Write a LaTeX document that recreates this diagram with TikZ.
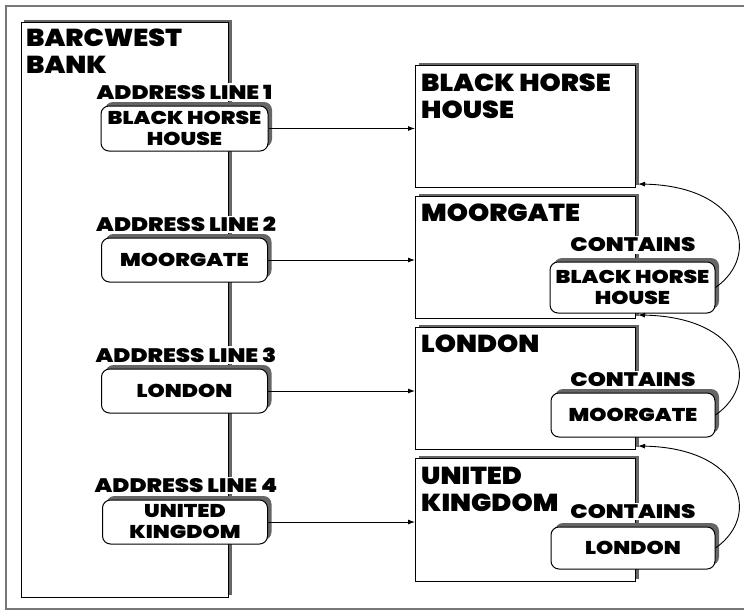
\documentclass[tikz,border=0pt]{standalone}
\usepackage{fontspec}
\newfontfamily\heavy{Poppins Black}[FakeStretch=1.1]
\newfontfamily\heavywide{Poppins Black}[FakeStretch=1.18]
\usetikzlibrary{shadows,arrows.meta}
\definecolor{shadowgray}{HTML}{666666}
\definecolor{framegray}{HTML}{777777}
\begin{document}
\begin{tikzpicture}[x=1pt,y=-1pt,
  bigtext/.style={font=\heavy\fontsize{24.5}{27}\selectfont, align=left, inner sep=0pt, anchor=north west},
  lbl/.style={font=\heavywide\fontsize{19.5}{21}\selectfont, fill=white, inner sep=1.5pt},
  panel/.style={draw=black, line width=1pt, fill=white, anchor=north west,
    drop shadow={shadow xshift=3pt, shadow yshift=3pt, fill=shadowgray, opacity=1}},
  itembox/.style={draw=black, line width=1pt, fill=white, rounded corners=8pt,
    align=center, inner sep=0pt, font=\heavywide\fontsize{18.5}{21}\selectfont,
    drop shadow={shadow xshift=4pt, shadow yshift=4pt, fill=shadowgray, opacity=1}},
  arr/.style={line width=0.9pt, -{Latex[length=7pt,width=5pt]}}]
\useasboundingbox (0,0) rectangle (744,611);
% page frame
\draw[framegray, line width=1.5pt] (6,6) rectangle (750,609);

% the bank record
\node[panel, minimum width=207.5pt, minimum height=575pt] (bank) at (20.5,22) {};
\node[bigtext] (bankname) at (26,29) {BARCWEST\\BANK};

% address lines
\node[lbl] (l1) at (184.5,92) {ADDRESS LINE 1};
\node[itembox, minimum width=167pt, minimum height=45pt] (a1) at (184.5,128.5) {BLACK HORSE\\HOUSE};
\node[lbl] (l2) at (186,224.5) {ADDRESS LINE 2};
\node[itembox, minimum width=166pt, minimum height=44pt] (a2) at (184.5,260) {MOORGATE};
\node[lbl] (l3) at (186,355) {ADDRESS LINE 3};
\node[itembox, minimum width=166pt, minimum height=44pt] (a3) at (184.5,391) {LONDON};
\node[lbl] (l4) at (186,485.5) {ADDRESS LINE 4};
\node[itembox, minimum width=165pt, minimum height=44pt] (a4) at (185,522) {UNITED\\KINGDOM};

% place records
\node[panel, minimum width=220pt, minimum height=122pt] (pA) at (415,65) {};
\node[bigtext] (tA) at (421,74) {BLACK HORSE\\HOUSE};
\node[panel, minimum width=220pt, minimum height=122pt] (pB) at (415,196) {};
\node[bigtext] (tB) at (421,204) {MOORGATE};
\node[panel, minimum width=220pt, minimum height=122pt] (pC) at (415,327) {};
\node[bigtext] (tC) at (421,335) {LONDON};
\node[panel, minimum width=220pt, minimum height=123pt] (pD) at (415,458) {};
\node[bigtext] (tD) at (421,467) {UNITED\\KINGDOM};

% contained places
\node[lbl] (cl2) at (633,245) {CONTAINS};
\node[itembox, minimum width=165pt, minimum height=51pt] (cB) at (632.5,287.5) {BLACK HORSE\\HOUSE};
\node[lbl] (cl3) at (633,380) {CONTAINS};
\node[itembox, minimum width=164pt, minimum height=44pt] (cC) at (633,415) {MOORGATE};
\node[lbl] (cl4) at (633,511.5) {CONTAINS};
\node[itembox, minimum width=164pt, minimum height=42pt] (cD) at (633,548) {LONDON};

% address line links
\draw[arr] (a1.east) -- (a1.east -| pA.west);
\draw[arr] (a2.east) -- (a2.east -| pB.west);
\draw[arr] (a3.east) -- (a3.east -| pC.west);
\draw[arr] (a4.east) -- (a4.east -| pD.west);

% containment links
\draw[arr] (cB.east) .. controls +(47,-33) and +(103,2) .. ([shift={(2pt,4pt)}]pA.south east);
\draw[arr] (cC.east) .. controls +(47,-33) and +(103,2) .. ([shift={(2pt,4pt)}]pB.south east);
\draw[arr] (cD.east) .. controls +(47,-33) and +(103,2) .. ([shift={(2pt,4pt)}]pC.south east);
\end{tikzpicture}
\end{document}
